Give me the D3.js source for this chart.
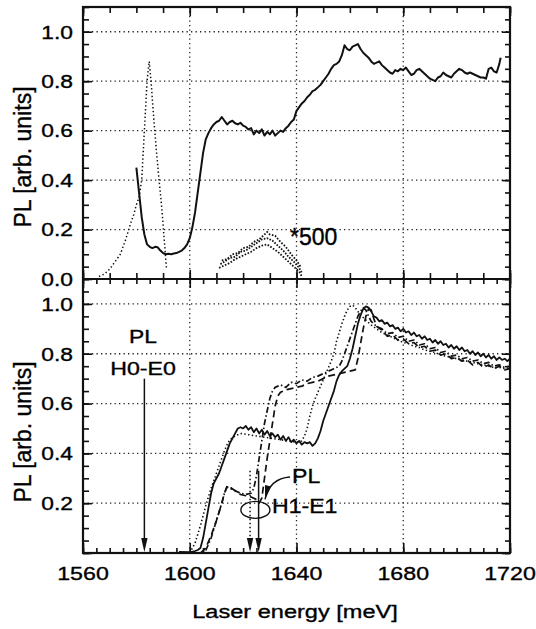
<!DOCTYPE html>
<html>
<head>
<meta charset="utf-8">
<script src="https://cdn.jsdelivr.net/npm/d3@7"></script>
<style>
  body { margin: 0; background: #fff; }
  svg { display: block; }
</style>
</head>
<body>
<div id="vis"></div>
<script>
// ---- data (energy in meV, PL in arb. units) ----
var topSolid = [[1580,0.45],[1581,0.35],[1582,0.25],[1583,0.18],[1584,0.14],[1585,0.13],[1586,0.125],[1587,0.13],[1588,0.128],[1589,0.115],[1590,0.105],[1591,0.1],[1592,0.102],[1593,0.1],[1594,0.103],[1595,0.105],[1596,0.11],[1597,0.115],[1598,0.125],[1599,0.14],[1600,0.165],[1601,0.21],[1602,0.27],[1603,0.35],[1604,0.43],[1605,0.51],[1606,0.565],[1607,0.59],[1608,0.61],[1609,0.625],[1610,0.635],[1611,0.64],[1612,0.655],[1613,0.64],[1614,0.625],[1615,0.635],[1616,0.64],[1617,0.63],[1618,0.625],[1619,0.632],[1620,0.62],[1621,0.615],[1622,0.605],[1623,0.61],[1624,0.585],[1625,0.6],[1626,0.59],[1627,0.605],[1628,0.58],[1629,0.595],[1630,0.585],[1631,0.6],[1632,0.58],[1633,0.59],[1634,0.6],[1635,0.595],[1636,0.61],[1637,0.62],[1638,0.635],[1639,0.645],[1640,0.68],[1641,0.695],[1642,0.71],[1643,0.72],[1644,0.735],[1645,0.745],[1646,0.76],[1647,0.765],[1648,0.775],[1649,0.785],[1650,0.8],[1651,0.815],[1652,0.83],[1653,0.85],[1654,0.865],[1655,0.87],[1656,0.88],[1657,0.905],[1658,0.945],[1659,0.93],[1660,0.925],[1661,0.94],[1662,0.945],[1663,0.95],[1664,0.93],[1665,0.915],[1666,0.905],[1667,0.895],[1668,0.88],[1669,0.87],[1670,0.875],[1671,0.88],[1672,0.865],[1673,0.855],[1674,0.845],[1675,0.835],[1676,0.83],[1677,0.845],[1678,0.84],[1679,0.85],[1680,0.845],[1681,0.855],[1682,0.84],[1683,0.825],[1684,0.83],[1685,0.845],[1686,0.85],[1687,0.84],[1688,0.83],[1689,0.82],[1690,0.81],[1691,0.805],[1692,0.8],[1693,0.815],[1694,0.82],[1695,0.835],[1696,0.825],[1697,0.82],[1698,0.815],[1699,0.83],[1700,0.84],[1701,0.85],[1702,0.845],[1703,0.835],[1704,0.83],[1705,0.835],[1706,0.83],[1707,0.825],[1708,0.82],[1709,0.815],[1710,0.815],[1711,0.81],[1712,0.85],[1713,0.855],[1714,0.84],[1715,0.835],[1716,0.87],[1716.5,0.895]];

var topDotted = [[1566,0.01],[1568,0.02],[1570,0.04],[1572,0.07],[1574,0.1],[1576,0.16],[1578,0.23],[1579,0.26],[1580,0.3],[1581,0.33],[1582,0.4],[1583,0.6],[1584,0.8],[1584.8,0.88],[1585.5,0.8],[1586.5,0.65],[1587.5,0.52],[1588.5,0.4],[1589.5,0.29],[1590.5,0.15],[1591.3,0.04]];

// PL spectrum scaled *500, drawn as a noisy band of three traces
var x500Upper = [[1612,0.075],[1614,0.08],[1616,0.1],[1618,0.105],[1620,0.125],[1622,0.13],[1624,0.15],[1626,0.16],[1628,0.18],[1629,0.19],[1630,0.18],[1632,0.175],[1634,0.15],[1636,0.13],[1638,0.1],[1640,0.075],[1641.5,0.05]];
var x500Mid = [[1611.5,0.06],[1613,0.07],[1615,0.085],[1617,0.09],[1619,0.11],[1621,0.115],[1623,0.13],[1625,0.145],[1627,0.16],[1629,0.165],[1631,0.155],[1633,0.135],[1635,0.115],[1637,0.09],[1639,0.07],[1641,0.045],[1642,0.025]];
var x500Lower = [[1611,0.045],[1613,0.055],[1615,0.065],[1617,0.08],[1619,0.09],[1621,0.1],[1623,0.11],[1625,0.125],[1627,0.135],[1629,0.14],[1631,0.125],[1633,0.11],[1635,0.09],[1637,0.07],[1639,0.05],[1641,0.03],[1642,0.01]];

var botSolid = [[1596,0.004],[1600,0.003],[1602,0.008],[1603,0.012],[1604,0.02],[1605,0.06],[1606,0.12],[1607,0.18],[1608,0.24],[1609,0.28],[1610,0.3],[1611,0.32],[1612,0.35],[1613,0.38],[1614,0.41],[1615,0.44],[1616,0.46],[1617,0.48],[1618,0.5],[1619,0.505],[1620,0.5],[1621,0.51],[1622,0.495],[1623,0.505],[1624,0.485],[1625,0.5],[1626,0.48],[1627,0.495],[1628,0.475],[1629,0.49],[1630,0.47],[1631,0.48],[1632,0.465],[1633,0.475],[1634,0.455],[1635,0.47],[1636,0.45],[1637,0.465],[1638,0.445],[1639,0.455],[1640,0.44],[1641,0.45],[1642,0.435],[1643,0.445],[1644,0.44],[1645,0.445],[1646,0.43],[1647,0.44],[1648,0.46],[1649,0.49],[1650,0.53],[1651,0.56],[1652,0.59],[1653,0.62],[1654,0.65],[1655,0.69],[1656,0.715],[1657,0.73],[1658,0.74],[1659,0.75],[1660,0.78],[1661,0.82],[1662,0.87],[1663,0.92],[1664,0.955],[1665,0.98],[1666,0.99],[1667,0.985],[1668,0.97],[1669,0.95],[1670,0.945],[1671,0.93],[1672,0.935],[1673,0.92],[1674,0.925],[1675,0.91],[1676,0.915],[1677,0.9],[1678,0.905],[1679,0.89],[1680,0.9],[1681,0.885],[1682,0.89],[1683,0.875],[1684,0.885],[1685,0.87],[1686,0.875],[1687,0.86],[1688,0.87],[1689,0.855],[1690,0.86],[1691,0.845],[1692,0.855],[1693,0.84],[1694,0.85],[1695,0.835],[1696,0.84],[1697,0.825],[1698,0.835],[1699,0.82],[1700,0.83],[1701,0.815],[1702,0.825],[1703,0.81],[1704,0.815],[1705,0.8],[1706,0.81],[1707,0.795],[1708,0.805],[1709,0.79],[1710,0.8],[1711,0.785],[1712,0.795],[1713,0.78],[1714,0.79],[1715,0.775],[1716,0.785],[1717,0.775],[1718,0.78],[1719,0.77],[1720,0.78]];

var botDotted = [[1600,0.0],[1602,0.04],[1604,0.11],[1606,0.19],[1608,0.26],[1609,0.29],[1610,0.32],[1611,0.35],[1612,0.38],[1613,0.41],[1614,0.435],[1615,0.455],[1617,0.47],[1619,0.48],[1622,0.475],[1625,0.47],[1628,0.465],[1631,0.46],[1634,0.455],[1637,0.45],[1640,0.445],[1642,0.45],[1643,0.47],[1644,0.5],[1645,0.55],[1646,0.59],[1647,0.62],[1648,0.645],[1649,0.67],[1650,0.695],[1651,0.72],[1652,0.745],[1653,0.77],[1654,0.8],[1655,0.85],[1656,0.885],[1657,0.92],[1658,0.95],[1659,0.975],[1660,0.99],[1661,0.995],[1662,0.985],[1663,0.97],[1664,0.955],[1666,0.935],[1668,0.915],[1670,0.9],[1672,0.885],[1674,0.875],[1676,0.865],[1678,0.855],[1680,0.845],[1682,0.84],[1684,0.83],[1686,0.825],[1688,0.815],[1690,0.81],[1692,0.805],[1694,0.795],[1696,0.79],[1698,0.785],[1700,0.78],[1702,0.775],[1704,0.77],[1706,0.765],[1708,0.76],[1710,0.755],[1712,0.75],[1714,0.745],[1716,0.745],[1718,0.74],[1720,0.74]];

var botDashed = [[1604,0.0],[1606,0.02],[1608,0.07],[1610,0.13],[1612,0.2],[1613,0.24],[1614,0.27],[1615,0.265],[1617,0.25],[1619,0.235],[1621,0.23],[1623,0.225],[1625,0.215],[1626,0.2],[1627,0.22],[1628,0.3],[1629,0.38],[1630,0.45],[1631,0.52],[1632,0.59],[1633,0.63],[1634,0.645],[1636,0.655],[1638,0.66],[1640,0.665],[1642,0.67],[1644,0.68],[1646,0.685],[1648,0.69],[1650,0.7],[1652,0.71],[1654,0.715],[1656,0.72],[1658,0.725],[1660,0.73],[1662,0.735],[1663,0.78],[1664,0.84],[1665,0.9],[1666,0.95],[1667,0.98],[1668,0.975],[1669,0.94],[1670,0.91],[1672,0.895],[1674,0.87],[1676,0.875],[1678,0.855],[1680,0.86],[1682,0.84],[1684,0.845],[1686,0.825],[1688,0.83],[1690,0.81],[1692,0.815],[1694,0.795],[1696,0.8],[1698,0.78],[1700,0.785],[1702,0.77],[1704,0.775],[1706,0.755],[1708,0.765],[1710,0.745],[1712,0.755],[1714,0.74],[1716,0.75],[1718,0.735],[1720,0.74]];

var botDashDot = [[1606,0.01],[1608,0.06],[1610,0.13],[1612,0.2],[1613,0.24],[1614,0.265],[1615,0.26],[1617,0.25],[1619,0.24],[1621,0.235],[1623,0.24],[1624,0.26],[1625,0.31],[1626,0.38],[1627,0.45],[1628,0.52],[1629,0.57],[1630,0.62],[1631,0.65],[1632,0.665],[1634,0.675],[1636,0.665],[1638,0.685],[1640,0.68],[1642,0.695],[1644,0.69],[1646,0.705],[1648,0.71],[1650,0.72],[1652,0.73],[1654,0.74],[1656,0.75],[1657,0.77],[1658,0.8],[1659,0.83],[1660,0.86],[1661,0.89],[1662,0.92],[1663,0.95],[1664,0.97],[1665,0.985],[1666,0.975],[1667,0.95],[1668,0.93],[1670,0.91],[1672,0.9],[1674,0.88],[1676,0.885],[1678,0.865],[1680,0.87],[1682,0.85],[1684,0.855],[1686,0.835],[1688,0.84],[1690,0.82],[1692,0.825],[1694,0.805],[1696,0.81],[1698,0.79],[1700,0.795],[1702,0.78],[1704,0.785],[1706,0.77],[1708,0.775],[1710,0.76],[1712,0.765],[1714,0.75],[1716,0.755],[1718,0.745],[1720,0.75]];

var xTickLabels = [1560, 1600, 1640, 1680, 1720];
var topYTicks = [0, 0.2, 0.4, 0.6, 0.8, 1.0];
var botYTicks = [0.2, 0.4, 0.6, 0.8, 1.0];
var gridE = [1600, 1640, 1680];
// transition arrows: [energy, top of arrow (PL units), style]
var arrowE = [1583, 1622.6, 1625.8];
var arrowTop = [0.70, 0.33, 0.33];
var arrowDash = [null, "1.5,2.5", null];

// ---- layout ----
var W = 536, H = 629;
var x0 = 83, x1 = 510, yTop = 7, yMid = 279, yBot = 553;
var font = "'Liberation Sans', Arial, Helvetica, sans-serif";

var svg = d3.select("#vis").append("svg")
  .attr("width", W)
  .attr("height", H);

var x = d3.scaleLinear().domain([1560, 1720]).range([x0, x1]);
var yT = d3.scaleLinear().domain([0, 1.1]).range([yMid, yTop]);
var yB = d3.scaleLinear().domain([0, 1.1]).range([yBot, yMid]);

function txt(g, px, py, s, size, sx, anchor) {
  return g.append("text")
    .attr("transform", "translate(" + px + "," + py + ") scale(" + sx + ",1)")
    .attr("text-anchor", anchor || "middle")
    .style("font-family", font)
    .style("font-size", size + "px")
    .attr("fill", "#000")
    .attr("stroke", "#000")
    .attr("stroke-width", 0.35)
    .text(s);
}

// grid
var grid = svg.append("g")
  .attr("stroke", "#222")
  .attr("stroke-width", 1.3)
  .attr("stroke-dasharray", "1.3,3.2");
gridE.forEach(function(e) {
  grid.append("line").attr("x1", x(e)).attr("x2", x(e)).attr("y1", yTop).attr("y2", yBot);
});
[[yT, topYTicks], [yB, botYTicks]].forEach(function(p) {
  p[1].filter(function(v) { return v > 0; }).forEach(function(v) {
    grid.append("line").attr("x1", x0).attr("x2", x1).attr("y1", p[0](v)).attr("y2", p[0](v));
  });
});

// ticks (inward) with d3 axes
function ticks(axis, tx, ty) {
  var g = svg.append("g").attr("transform", "translate(" + tx + "," + ty + ")").call(axis.tickFormat(""));
  g.select(".domain").remove();
  g.selectAll("line").attr("stroke", "#111").attr("stroke-width", 1.6);
}
var e5 = d3.range(1560, 1720.01, 5), e10 = d3.range(1560, 1720.01, 10), e40 = d3.range(1560, 1720.01, 40);
var v05 = d3.range(0, 1.1001, 0.05), v20 = d3.range(0, 1.1001, 0.2);

[yT, yB].forEach(function(ys) {
  ticks(d3.axisRight(ys).tickValues(v05).tickSize(6), x0, 0);
  ticks(d3.axisRight(ys).tickValues(v20).tickSize(9), x0, 0);
  ticks(d3.axisLeft(ys).tickValues(v05).tickSize(5), x1, 0);
  ticks(d3.axisLeft(ys).tickValues(v20).tickSize(8), x1, 0);
});
ticks(d3.axisBottom(x).tickValues(e10).tickSize(6), 0, yTop);
ticks(d3.axisBottom(x).tickValues(e40).tickSize(9), 0, yTop);
ticks(d3.axisTop(x).tickValues(e10).tickSize(6), 0, yMid);
ticks(d3.axisTop(x).tickValues(e40).tickSize(9), 0, yMid);
ticks(d3.axisBottom(x).tickValues(e5).tickSize(5), 0, yMid);
ticks(d3.axisBottom(x).tickValues(e40).tickSize(9), 0, yMid);
ticks(d3.axisTop(x).tickValues(e5).tickSize(5), 0, yBot);
ticks(d3.axisTop(x).tickValues(e40).tickSize(10), 0, yBot);

// frame
svg.append("rect")
  .attr("x", x0).attr("y", yTop)
  .attr("width", x1 - x0).attr("height", yBot - yTop)
  .attr("fill", "none").attr("stroke", "#111").attr("stroke-width", 2.2);
svg.append("line")
  .attr("x1", x0).attr("x2", x1).attr("y1", yMid).attr("y2", yMid)
  .attr("stroke", "#111").attr("stroke-width", 2.2);

// curves
function curve(data, ys, dash, w) {
  svg.append("path")
    .datum(data)
    .attr("d", d3.line().x(function(d) { return x(d[0]); }).y(function(d) { return ys(d[1]); }))
    .attr("fill", "none")
    .attr("stroke", "#111")
    .attr("stroke-width", w || 1.8)
    .attr("stroke-linejoin", "round")
    .attr("stroke-dasharray", dash);
}
curve(topDotted, yT, "1.4,2.4", 1.5);
curve(x500Upper, yT, "1.6,1.6", 1.8);
curve(x500Mid, yT, "1.6,1.4", 1.8);
curve(x500Lower, yT, "1.6,1.6", 1.8);
curve(topSolid, yT, null, 2);

curve(botDotted, yB, "1.4,2.4", 1.6);
curve(botDashed, yB, "7,4", 1.7);
curve(botDashDot, yB, "6,2.5,1.5,2.5", 1.7);
curve(botSolid, yB, null, 1.8);

// arrows
function head(tx, ty, ang) {
  var L = 14, hw = 3.2;
  var bx = tx - L * Math.cos(ang), by = ty - L * Math.sin(ang);
  var nx = -Math.sin(ang) * hw, ny = Math.cos(ang) * hw;
  svg.append("path")
    .attr("d", "M" + tx + "," + ty + "L" + (bx + nx) + "," + (by + ny) + "L" + (bx - nx) + "," + (by - ny) + "Z")
    .attr("fill", "#111");
}
arrowE.forEach(function(e, i) {
  svg.append("line")
    .attr("x1", x(e)).attr("x2", x(e))
    .attr("y1", yB(arrowTop[i])).attr("y2", yBot - 8)
    .attr("stroke", "#111").attr("stroke-width", 1.5)
    .attr("stroke-dasharray", arrowDash[i]);
  head(x(e), yBot - 1, Math.PI / 2);
});

// H1-E1 marker ellipse and curved pointer
svg.append("ellipse")
  .attr("cx", x(1624.6)).attr("cy", yB(0.173))
  .attr("rx", 14.5).attr("ry", 8.5)
  .attr("fill", "none").attr("stroke", "#111").attr("stroke-width", 1.4);
var p0 = [x(1637.6), yB(0.305)], pc = [x(1630), yB(0.30)], p1 = [x(1628.2), yB(0.215)];
svg.append("path")
  .attr("d", "M" + p0 + "Q" + pc + " " + p1)
  .attr("fill", "none").attr("stroke", "#111").attr("stroke-width", 1.4);
head(p1[0], p1[1], Math.atan2(p1[1] - pc[1], p1[0] - pc[0]));

// labels
var lab = svg.append("g");
topYTicks.forEach(function(v) { txt(lab, 73, yT(v) + 6.8, v.toFixed(1), 19, 1.2, "end"); });
botYTicks.forEach(function(v) { txt(lab, 73, yB(v) + 6.8, v.toFixed(1), 19, 1.2, "end"); });
xTickLabels.forEach(function(e) { txt(lab, x(e), 580, e, 19, 1.22, "middle"); });
txt(lab, 295, 618, "Laser energy [meV]", 19, 1.24, "middle");

[157, 432].forEach(function(cy) {
  lab.append("text")
    .attr("transform", "translate(31," + cy + ") rotate(-90)")
    .attr("text-anchor", "middle")
    .style("font-family", font)
    .style("font-size", "23px")
    .attr("fill", "#000")
    .attr("stroke", "#000")
    .attr("stroke-width", 0.35)
    .text("PL [arb. units]");
});

txt(lab, 290, 245, "*500", 23, 1, "start");
txt(lab, 143, 343, "PL", 19, 1.2, "middle");
txt(lab, 143, 375, "H0-E0", 19, 1.22, "middle");
txt(lab, 292, 483, "PL", 21, 1.1, "start");
txt(lab, 272, 513, "H1-E1", 21, 1.1, "start");
</script>
</body>
</html>
